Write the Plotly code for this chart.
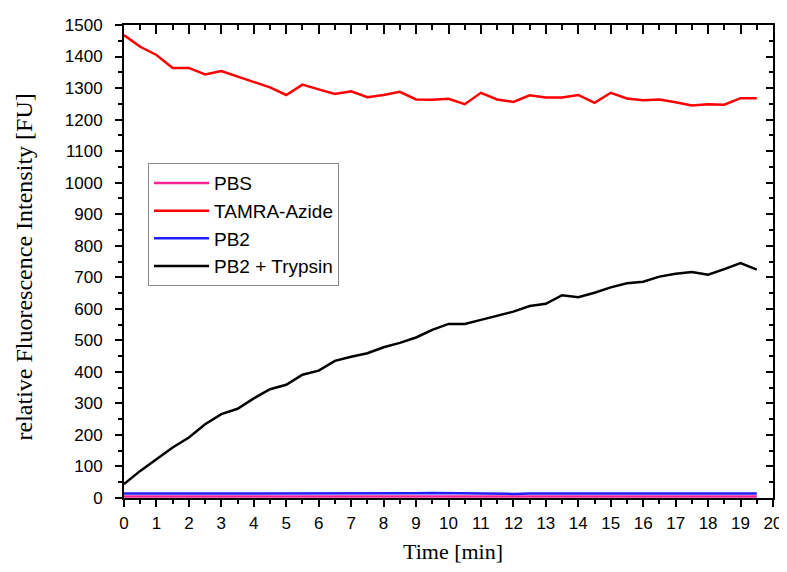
import plotly.graph_objects as go

time_min = [i * 0.5 for i in range(40)]

pbs = [5, 5, 4, 4, 4, 5, 4, 4, 4, 4, 5, 4, 5, 5, 5, 4, 5, 4, 4, 5,
       5, 5, 4, 4, 3, 4, 4, 4, 4, 5, 4, 4, 4, 5, 4, 4, 4, 4, 5, 5]

tamra_azide = [1468, 1431, 1405, 1364, 1364, 1343, 1354, 1336, 1318, 1302,
               1278, 1311, 1296, 1281, 1290, 1271, 1278, 1288, 1264, 1263,
               1266, 1249, 1285, 1264, 1256, 1277, 1270, 1270, 1278, 1253,
               1285, 1267, 1261, 1264, 1255, 1245, 1249, 1247, 1268, 1268]

pb2 = [14, 14, 14, 13, 13, 15, 14, 14, 14, 14, 15, 14, 15, 15, 15, 14, 14, 14, 15, 16,
       15, 16, 13, 12, 13, 14, 14, 14, 14, 14, 15, 14, 14, 14, 14, 14, 13, 14, 15, 14]

pb2_trypsin = [44, 86, 123, 160, 192, 234, 266, 283, 316, 345,
               359, 391, 404, 435, 448, 459, 478, 492, 509, 533,
               552, 552, 565, 578, 591, 609, 616, 643, 637, 651,
               668, 681, 686, 702, 711, 717, 708, 726, 745, 724]

series_names = ["PBS", "TAMRA-Azide", "PB2", "PB2 + Trypsin"]
series_colors = ["#f0249b", "#ff0000", "#1f1fff", "#000000"]
series_values = [pbs, tamra_azide, pb2, pb2_trypsin]

x_ticks = list(range(0, 21))
y_ticks = list(range(0, 1501, 100))

fig = go.Figure()
for name, color, vals in zip(series_names, series_colors, series_values):
    fig.add_trace(go.Scatter(x=time_min, y=vals, name=name, mode="lines",
                             line=dict(color=color, width=2.5)))

# invisible trace carrying the mirrored (top/right) frame axes
fig.add_trace(go.Scatter(x=time_min, y=pbs, xaxis="x2", yaxis="y2", mode="lines",
                         line=dict(width=0), opacity=0, showlegend=False,
                         hoverinfo="skip"))

axis_common = dict(showgrid=False, zeroline=False, showline=True,
                   linecolor="black", linewidth=2, tickcolor="black",
                   tickwidth=2, automargin=False)

serif = "Liberation Serif, Times New Roman, serif"

# the page body adds an 8px offset, so the figure is 8px smaller than the window
fig.update_layout(
    width=779, height=564,
    margin=dict(l=116, r=14, t=17, b=74),
    paper_bgcolor="white", plot_bgcolor="white",
    font=dict(family="Liberation Sans, Arial, sans-serif", color="black"),
    xaxis=dict(range=[0, 20], tickvals=x_ticks, ticks="outside", ticklen=7,
               minor=dict(dtick=0.5, ticks="outside", ticklen=4, tickwidth=2, tickcolor="black"),
               tickfont=dict(size=17), ticklabelstandoff=2,
               **axis_common),
    yaxis=dict(range=[0, 1500], tickvals=y_ticks, ticks="outside", ticklen=7,
               minor=dict(dtick=50, ticks="outside", ticklen=4, tickwidth=2, tickcolor="black"),
               tickfont=dict(size=17), ticklabelstandoff=9,
               **axis_common),
    xaxis2=dict(range=[0, 20], overlaying="x", side="top", tickvals=x_ticks,
                ticks="inside", ticklen=9, showticklabels=False,
                minor=dict(dtick=0.5, ticks="inside", ticklen=5, tickwidth=2, tickcolor="black"),
                **axis_common),
    yaxis2=dict(range=[0, 1500], overlaying="y", side="right", tickvals=y_ticks,
                ticks="inside", ticklen=7, showticklabels=False,
                minor=dict(dtick=50, ticks="inside", ticklen=4, tickwidth=2, tickcolor="black"),
                **axis_common),
    legend=dict(x=0.037, y=0.708, xanchor="left", yanchor="top",
                bgcolor="white", bordercolor="#888888", borderwidth=1,
                font=dict(size=19), tracegroupgap=0, itemwidth=55),
    showlegend=True,
    annotations=[
        dict(text="Time [min]", xref="paper", yref="paper", x=0.5, y=0,
             xshift=4, yshift=-53, xanchor="center", yanchor="middle",
             showarrow=False, font=dict(family=serif, size=22)),
        dict(text="relative Fluorescence Intensity [FU]", xref="paper", yref="paper",
             x=0, y=0.5, xshift=-101, yshift=-6, xanchor="center", yanchor="middle",
             textangle=-90, showarrow=False, font=dict(family=serif, size=24)),
    ],
)

fig.write_html("out.html")
